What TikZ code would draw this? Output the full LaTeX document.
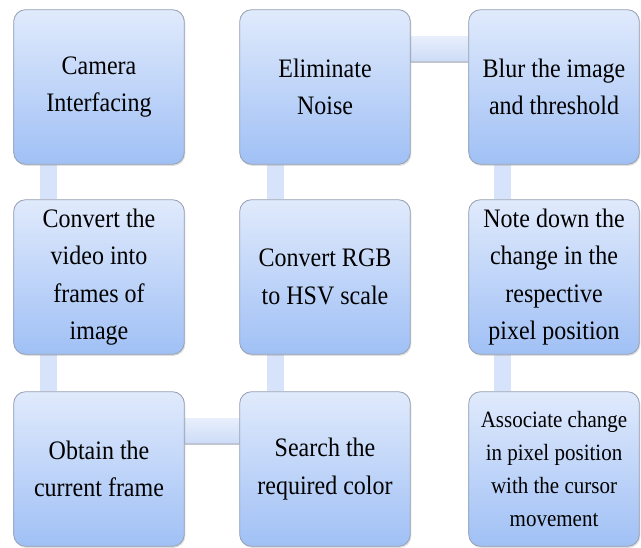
\documentclass[tikz,border=0pt]{standalone}
\usepackage{fontspec}
\setmainfont{Liberation Serif}[FakeStretch=0.9]
\usepackage{xcolor}
\usepackage{tikz}
\usetikzlibrary{shadows,backgrounds}

\definecolor{boxtop}{RGB}{224,234,252}
\definecolor{boxbot}{RGB}{160,192,245}
\definecolor{boxedge}{RGB}{150,160,178}
\definecolor{barblue}{RGB}{214,227,250}
\definecolor{bartop}{RGB}{232,239,252}
\definecolor{barbot}{RGB}{204,219,247}

\begin{document}
\begin{tikzpicture}[x=0.75pt,y=-0.75pt,
  stage/.style={rounded corners=9pt,draw=boxedge,line width=0.6pt,
    top color=boxtop,bottom color=boxbot,
    minimum width=128pt,minimum height=116pt,align=center,inner sep=2pt,
    font=\fontsize{20}{28}\selectfont,
    drop shadow={opacity=0.25,shadow xshift=0.8pt,shadow yshift=-1.2pt}},
  vbar/.style={line width=12.75pt,draw=barblue},
  hbar/.style={top color=bartop,bottom color=barbot}]
  \useasboundingbox (0,0) rectangle (641,547);

  % first column, top to bottom
  \node[stage] (camera) at (99,87) {Camera\\Interfacing};
  \node[stage] (frames) at (99,277) {Convert the\\video into\\frames of\\image};
  \node[stage] (current) at (99,469) {Obtain the\\current frame};
  % second column, bottom to top
  \node[stage] (search) at (325,469) {Search the\\required color};
  \node[stage] (hsv) at (325,277) {Convert RGB\\to HSV scale};
  \node[stage] (noise) at (325,87) {Eliminate\\Noise};
  % third column, top to bottom
  \node[stage] (blur) at (554,87) {Blur the image\\and threshold};
  \node[stage] (pixel) at (554,277) {Note down the\\change in the\\respective\\pixel position};
  \node[stage,font=\fontsize{17.5}{24.8}\selectfont] (cursor) at (554,469)
    {Associate change\\in pixel position\\with the cursor\\movement};

  \begin{scope}[on background layer]
    \draw[vbar] ([xshift=-38pt]camera.south) -- ([xshift=-38pt]frames.north);
    \draw[vbar] ([xshift=-38pt]frames.south) -- ([xshift=-38pt]current.north);
    \shade[hbar] ([yshift=38.25pt]current.east) rectangle ([yshift=18.75pt]search.west);
    \draw[boxedge!60,line width=0.8pt] ([yshift=18.75pt]current.east) -- ([yshift=18.75pt]search.west);
    \draw[vbar] ([xshift=-37pt]search.north) -- ([xshift=-37pt]hsv.south);
    \draw[vbar] ([xshift=-37pt]hsv.north) -- ([xshift=-37pt]noise.south);
    \shade[hbar] ([yshift=38.25pt]noise.east) rectangle ([yshift=18.75pt]blur.west);
    \draw[boxedge!60,line width=0.8pt] ([yshift=18.75pt]noise.east) -- ([yshift=18.75pt]blur.west);
    \draw[vbar] ([xshift=-39pt]blur.south) -- ([xshift=-39pt]pixel.north);
    \draw[vbar] ([xshift=-39pt]pixel.south) -- ([xshift=-39pt]cursor.north);
  \end{scope}
\end{tikzpicture}
\end{document}
